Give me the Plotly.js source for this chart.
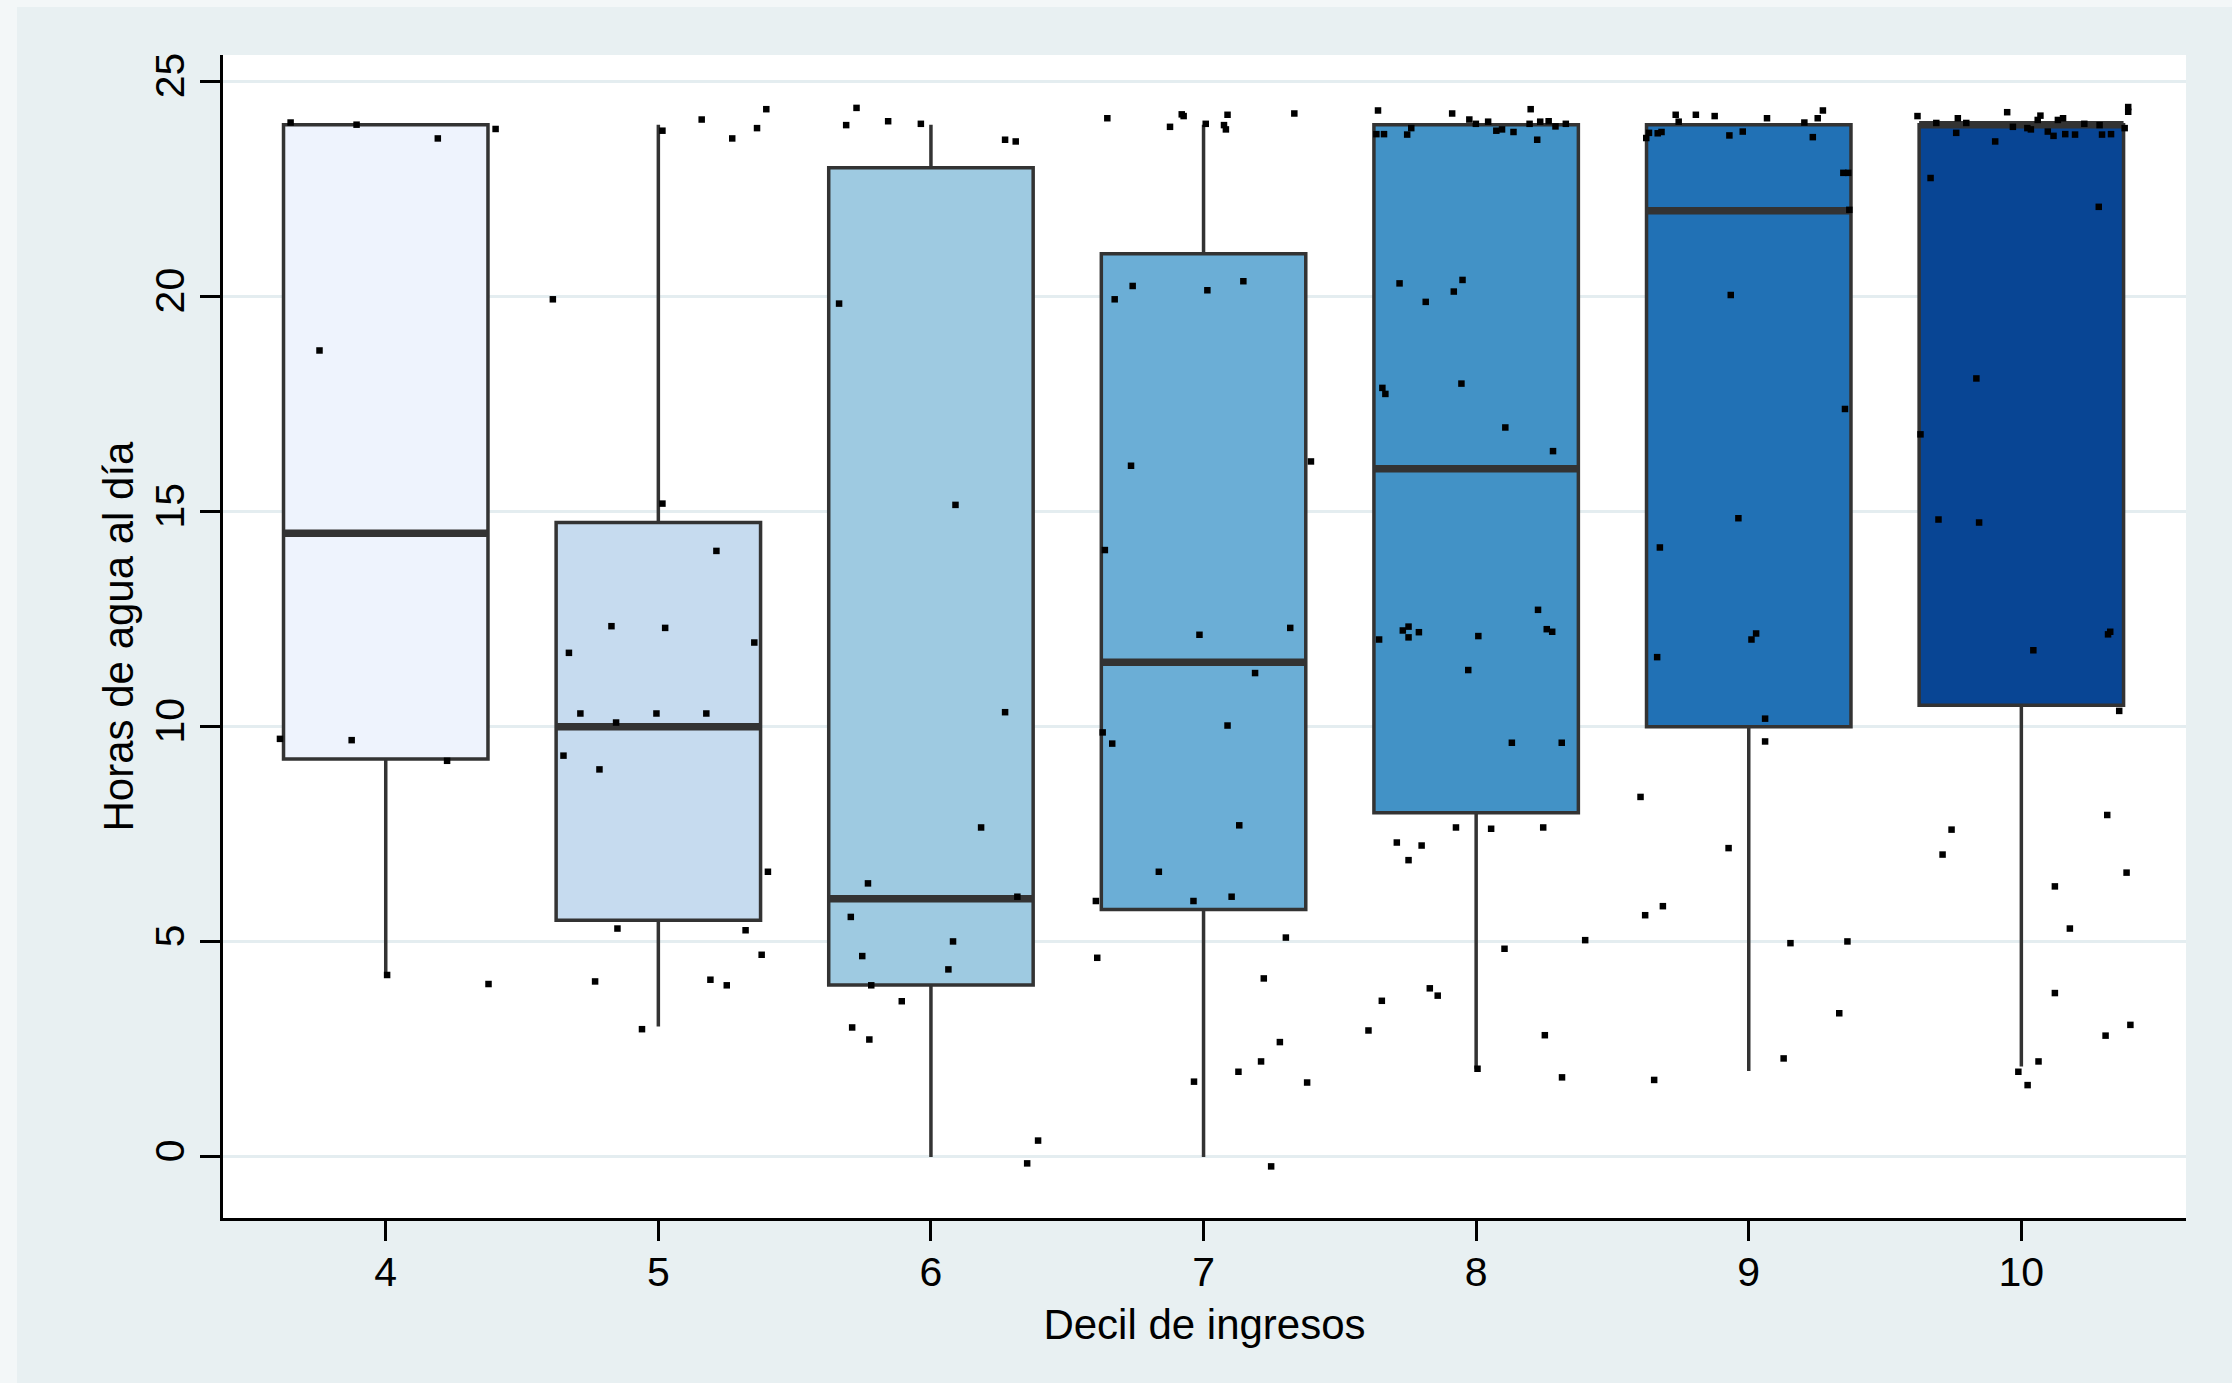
<!DOCTYPE html>
<html>
<head>
<meta charset="utf-8">
<script src="https://cdn.plot.ly/plotly-3.0.1.min.js"></script>
<style>
  html, body { margin: 0; padding: 0; background: #f3f7f8; width: 2232px; height: 1383px; overflow: hidden; }
  #chart { position: absolute; left: 17px; top: 7px; width: 2215px; height: 1376px; }
</style>
</head>
<body>
<div id="chart"></div>
<script>
// ---- Data ----
const deciles = [4, 5, 6, 7, 8, 9, 10];
const tickLabels = ["4", "5", "6", "7", "8", "9", "10"];
const q1Vals     = [9.25, 5.5, 4.0, 5.75, 8.0, 10.0, 10.5];
const medianVals = [14.5, 10.0, 6.0, 11.5, 16.0, 22.0, 24.0];
const q3Vals     = [24.0, 14.75, 23.0, 21.0, 24.0, 24.0, 24.0];
const lowerVals  = [4.2, 3.03, 0.0, 0.0, 2.05, 2.0, 2.1];
const upperVals  = [24.0, 24.0, 24.0, 24.0, 24.0, 24.0, 24.0];
const boxColors  = ["#eef3fd", "#c6dbef", "#9ecae1", "#6baed6", "#4292c6", "#2171b5", "#084594"];
const yTicks = [0, 5, 10, 15, 20, 25];

// jittered individual observations (x = decile + jitter, y = hours)
const x4 = [3.651, 3.893, 4.191, 4.403, 3.757, 3.612, 3.875, 4.225, 4.005, 4.377];
const y4 = [24.05, 24.0, 23.68, 23.9, 18.75, 9.72, 9.69, 9.21, 4.23, 4.02];

const x5 = [4.613, 5.015, 5.159, 5.271, 5.362, 5.396, 5.015, 5.213, 4.672, 4.828, 5.025, 5.352, 4.714, 4.845, 4.993, 5.176, 4.652, 4.784, 5.402, 4.850, 5.320, 5.379, 4.768, 5.191, 5.251, 4.940];
const y5 = [19.94, 23.86, 24.12, 23.68, 23.92, 24.36, 15.19, 14.09, 11.72, 12.34, 12.30, 11.96, 10.31, 10.10, 10.31, 10.31, 9.33, 9.01, 6.63, 5.31, 5.27, 4.70, 4.08, 4.12, 3.99, 2.97];

const x6 = [5.689, 5.727, 5.843, 5.963, 6.272, 6.311, 5.663, 6.090, 6.272, 6.184, 5.769, 6.317, 5.706, 5.748, 6.081, 6.064, 5.781, 5.893, 5.711, 5.774, 6.393, 6.353];
const y6 = [23.99, 24.39, 24.08, 24.02, 23.65, 23.61, 19.84, 15.16, 10.34, 7.66, 6.36, 6.05, 5.58, 4.67, 5.01, 4.36, 3.99, 3.62, 3.01, 2.73, 0.38, -0.15];

const x7 = [6.647, 6.877, 6.920, 6.927, 7.008, 7.075, 7.082, 7.088, 7.333, 6.674, 6.740, 7.014, 7.146, 6.734, 7.394, 6.638, 6.985, 7.318, 7.189, 7.088, 6.630, 6.665, 7.131, 6.836, 6.605, 6.963, 7.103, 7.302, 6.610, 7.221, 7.280, 6.965, 7.128, 7.211, 7.380, 7.248];
const y7 = [24.15, 23.95, 24.24, 24.20, 24.02, 23.99, 23.89, 24.23, 24.26, 19.94, 20.25, 20.15, 20.36, 16.07, 16.17, 14.11, 12.14, 12.30, 11.25, 10.03, 9.87, 9.61, 7.71, 6.63, 5.95, 5.95, 6.05, 5.10, 4.63, 4.15, 2.67, 1.75, 1.98, 2.22, 1.73, -0.22];

const x8 = [7.640, 7.634, 7.662, 7.747, 7.762, 7.912, 7.975, 7.999, 8.044, 8.074, 8.095, 8.137, 8.200, 8.196, 8.224, 8.235, 8.266, 8.291, 8.329, 7.719, 7.815, 7.918, 7.950, 7.656, 7.667, 7.946, 8.107, 8.282, 7.644, 7.731, 7.752, 7.752, 7.790, 8.008, 7.971, 8.227, 8.259, 8.279, 8.131, 8.314, 7.926, 8.055, 8.246, 7.709, 7.800, 7.752, 8.104, 8.400, 7.654, 7.830, 7.859, 7.605, 8.252, 8.005, 8.315];
const y8 = [24.33, 23.78, 23.78, 23.77, 23.92, 24.26, 24.12, 24.02, 24.07, 23.86, 23.89, 23.83, 24.36, 24.02, 23.65, 24.07, 24.08, 23.96, 24.02, 20.31, 19.88, 20.12, 20.39, 17.88, 17.74, 17.98, 16.96, 16.41, 12.03, 12.24, 12.33, 12.08, 12.20, 12.11, 11.32, 12.72, 12.27, 12.21, 9.63, 9.63, 7.66, 7.63, 7.66, 7.31, 7.24, 6.90, 4.84, 5.04, 3.63, 3.92, 3.75, 2.94, 2.83, 2.05, 1.85];

const x9 = [8.624, 8.634, 8.666, 8.680, 8.732, 8.743, 8.806, 8.875, 8.929, 8.978, 9.067, 9.204, 9.235, 9.253, 9.272, 9.347, 9.365, 9.369, 8.934, 9.353, 8.962, 8.674, 9.010, 9.027, 8.664, 9.060, 9.060, 8.603, 8.926, 8.620, 8.685, 9.153, 9.362, 9.332, 8.653, 9.128];
const y9 = [23.69, 23.81, 23.80, 23.83, 24.23, 24.07, 24.23, 24.20, 23.75, 23.84, 24.15, 24.05, 23.71, 24.15, 24.33, 22.88, 22.88, 22.02, 20.04, 17.39, 14.85, 14.17, 12.03, 12.17, 11.62, 10.19, 9.66, 8.37, 7.18, 5.62, 5.83, 4.97, 5.01, 3.34, 1.79, 2.29];

const x10 = [9.619, 9.688, 9.761, 9.767, 9.798, 9.904, 9.948, 9.969, 10.022, 10.035, 10.060, 10.070, 10.097, 10.118, 10.134, 10.153, 10.161, 10.197, 10.231, 10.287, 10.296, 10.329, 10.379, 10.392, 10.392, 9.667, 10.284, 9.835, 9.630, 9.696, 9.845, 10.318, 10.326, 10.044, 10.359, 9.744, 9.711, 10.315, 10.386, 10.123, 10.178, 10.123, 10.309, 10.400, 9.989, 10.023, 10.063];
const y10 = [24.20, 24.04, 23.81, 24.15, 24.04, 23.61, 24.29, 23.95, 23.92, 23.89, 24.11, 24.21, 23.84, 23.74, 24.11, 24.15, 23.78, 23.77, 24.02, 23.99, 23.77, 23.78, 23.92, 24.30, 24.41, 22.76, 22.09, 18.10, 16.80, 14.82, 14.75, 12.15, 12.21, 11.78, 10.37, 7.61, 7.03, 7.95, 6.61, 6.29, 5.31, 3.81, 2.82, 3.07, 1.98, 1.67, 2.22];

const pointXs = [x4, x5, x6, x7, x8, x9, x10];
const pointYs = [y4, y5, y6, y7, y8, y9, y10];

// ---- Styling ----
const FONT = "Liberation Sans, Arial, Helvetica, sans-serif";
const BOX_W = 0.75;
const EDGE = "#333333";

const traces = [];
deciles.forEach((d, i) => {
  traces.push({
    type: "box",
    x: [d],
    q1: [q1Vals[i]],
    median: [medianVals[i]],
    q3: [q3Vals[i]],
    lowerfence: [lowerVals[i]],
    upperfence: [upperVals[i]],
    width: BOX_W,
    whiskerwidth: 0,
    boxpoints: false,
    fillcolor: boxColors[i],
    line: { color: EDGE, width: 3.5 },
    showlegend: false,
    hoverinfo: "skip"
  });
});
// thicker median bars
deciles.forEach((d, i) => {
  traces.push({
    type: "scatter",
    mode: "lines",
    x: [d - BOX_W / 2, d + BOX_W / 2],
    y: [medianVals[i], medianVals[i]],
    line: { color: EDGE, width: 7.5 },
    showlegend: false,
    hoverinfo: "skip"
  });
});
// jittered points
deciles.forEach((d, i) => {
  traces.push({
    type: "scatter",
    mode: "markers",
    x: pointXs[i],
    y: pointYs[i],
    marker: { symbol: "square", size: 6.5, color: "#000000" },
    showlegend: false,
    hoverinfo: "skip"
  });
});

const layout = {
  width: 2215,
  height: 1376,
  margin: { l: 206, r: 46, t: 48, b: 165 },
  paper_bgcolor: "#e8f0f2",
  plot_bgcolor: "#ffffff",
  font: { family: FONT, color: "#000000", size: 41 },
  showlegend: false,
  xaxis: {
    range: [3.403, 10.604],
    tickmode: "array",
    tickvals: deciles,
    ticktext: tickLabels,
    ticks: "outside",
    ticklen: 20,
    tickwidth: 3,
    tickcolor: "#000000",
    ticklabelstandoff: -4,
    showline: true,
    linecolor: "#000000",
    linewidth: 3,
    showgrid: false,
    zeroline: false,
    tickfont: { family: FONT, size: 41, color: "#000000" },
    title: { text: "Decil de ingresos", font: { family: FONT, size: 42, color: "#000000" }, standoff: 16 }
  },
  yaxis: {
    range: [-1.42, 25.62],
    tickmode: "array",
    tickvals: yTicks,
    ticktext: yTicks.map(String),
    tickangle: -90,
    ticks: "outside",
    ticklen: 20,
    tickwidth: 3,
    tickcolor: "#000000",
    showline: true,
    linecolor: "#000000",
    linewidth: 3,
    showgrid: true,
    gridcolor: "#e4edf0",
    gridwidth: 3,
    zeroline: false,
    tickfont: { family: FONT, size: 41, color: "#000000" },
    title: { text: "Horas de agua al día", font: { family: FONT, size: 42, color: "#000000" }, standoff: 0 }
  }
};

Plotly.newPlot("chart", traces, layout, { displayModeBar: false, staticPlot: true });
</script>
</body>
</html>
